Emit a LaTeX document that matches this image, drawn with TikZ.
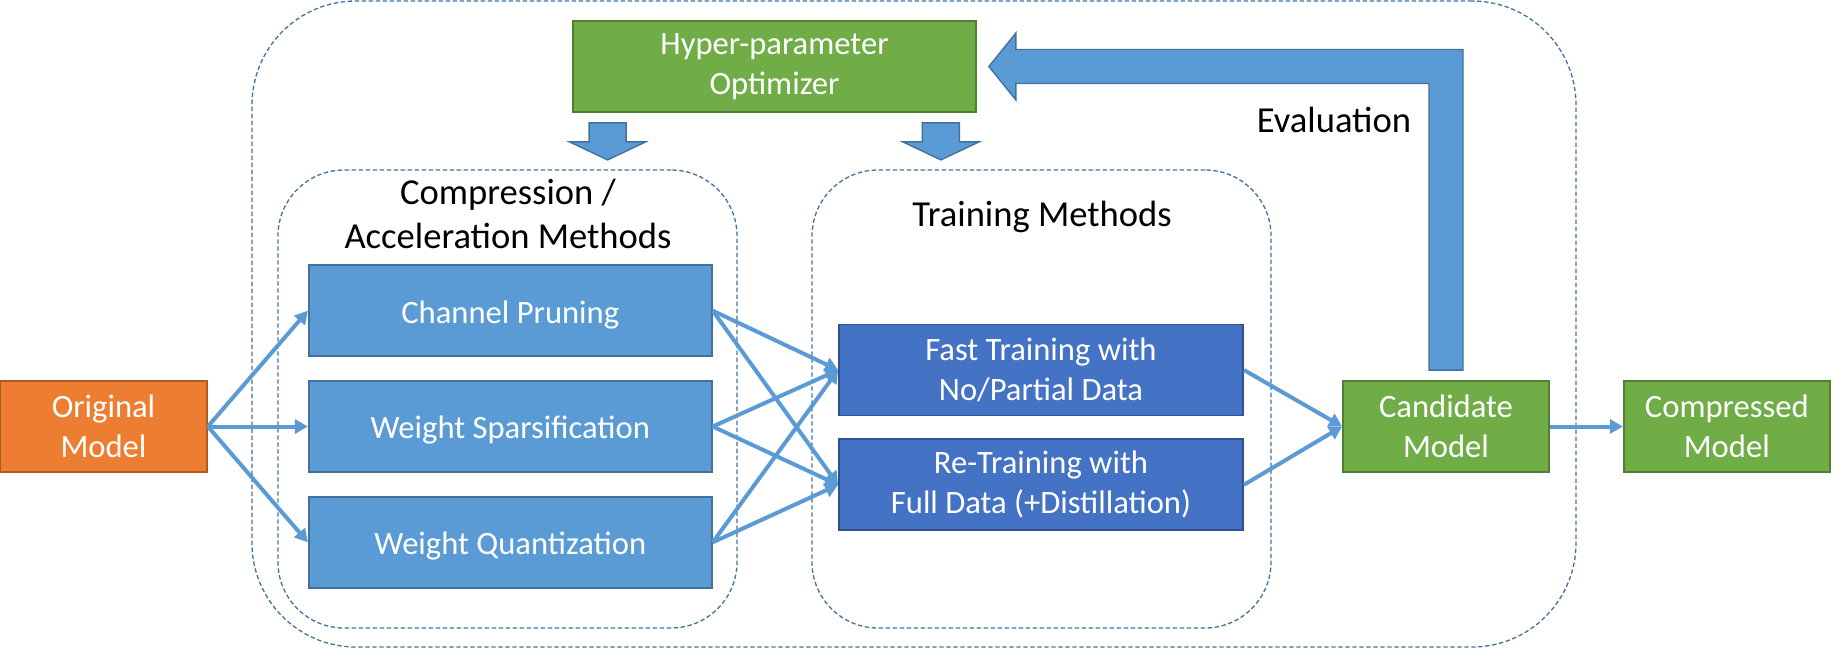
\documentclass[tikz,border=0pt]{standalone}
\usepackage{fontspec}
\setmainfont{Carlito}
\usepackage{xcolor}
\definecolor{lineDark}{HTML}{41719C}
\definecolor{methodColor}{HTML}{5B9BD5}
\definecolor{trainColor}{HTML}{4472C4}
\definecolor{trainLine}{HTML}{2F528F}
\definecolor{modelColor}{HTML}{70AD47}
\definecolor{modelLine}{HTML}{507E32}
\definecolor{inputColor}{HTML}{ED7D31}
\definecolor{inputLine}{HTML}{AE5A21}
\usepackage{tikz}
\usetikzlibrary{positioning,calc,arrows.meta}
\newcommand{\boxfont}{\fontsize{16.3pt}{19.9pt}\selectfont}
\newcommand{\titlefont}{\fontsize{18.3pt}{22pt}\selectfont}
\tikzset{
  methodBox/.style={
    rectangle,
    draw=lineDark,
    line width=0.9pt,
    fill=methodColor,
    text=white,
    font=\boxfont,
    minimum width=201.5pt,
    minimum height=45.5pt,
    align=center
 },
  oneLine/.style={
    text height=16.3pt,
    text depth=4pt
 },
  trainBox/.style={
    methodBox,
    draw=trainLine,
    fill=trainColor,
    minimum width=202pt
 },
  modelBox/.style={
    methodBox,
    draw=modelLine,
    fill=modelColor,
    minimum width=103pt
 },
  inputBox/.style={
    methodBox,
    draw=inputLine,
    fill=inputColor,
    minimum width=103.5pt
 },
  groupBox/.style={
    rectangle,
    draw=lineDark,
    line width=0.65pt,
    dash pattern=on 2.2pt off 1.3pt,
    rounded corners=33pt,
    minimum width=229.5pt,
    minimum height=229pt
 },
  titleText/.style={
    font=\titlefont,
    align=center,
    inner sep=0pt
 },
  flowArrow/.style={
    -{Triangle[length=6.5pt,width=7pt]},
    line width=2pt,
    color=methodColor
 },
  blockArrow/.style={
    draw=lineDark,
    line width=0.7pt,
    fill=methodColor
 }
}

\begin{document}
\begin{tikzpicture}[x=0.5pt,y=-0.5pt]
            \useasboundingbox (0,0) rectangle (1836,649);
            % dashed groups
            \node[groupBox, minimum width=662pt, minimum height=323pt, rounded corners=52pt] (outerGroup) at (914,324) {};
            \node[groupBox] (compGroup) at (507.5,399) {};
            \node[groupBox] (trainGroup) at (1041.5,399) {};
            \node[titleText] (compTitle) at (508,214) {Compression /\\Acceleration Methods};
            \node[titleText] (trainTitle) at (1042,217) {Training Methods};

            % input model
            \node[inputBox] (orig) at (103.5,426.5) {Original\\Model};
            % compression methods
            \node[methodBox, oneLine, right=50pt of orig] (sparse) {Weight Sparsification};
            \node[methodBox, oneLine, above=11.5pt of sparse] (prune) {Channel Pruning};
            \node[methodBox, oneLine, below=11.5pt of sparse] (quant) {Weight Quantization};
            % training methods
            \node[trainBox] (fast) at (1041,370) {Fast Training with\\No/Partial Data};
            \node[trainBox, below=11pt of fast] (retrain) {Re-Training with\\Full Data (+Distillation)};
            % output models
            \node[modelBox] (cand) at (1446,426.5) {Candidate\\Model};
            \node[modelBox, right=36.5pt of cand] (comp) {Compressed\\Model};
            % optimizer
            \node[methodBox, draw=modelLine, fill=modelColor] (hyper) at (774.5,66.5) {Hyper-parameter\\Optimizer};

            \foreach \s in {prune,sparse,quant} {
              \draw[flowArrow] (orig.east) -- (\s.west);
              \foreach \t in {fast,retrain}
                \draw[flowArrow] (\s.east) -- (\t.west);
            }
            \foreach \t in {fast,retrain}
              \draw[flowArrow] (\t.east) -- (cand.west);
            \draw[flowArrow] (cand) -- (comp);

            % optimizer feeds both groups
            \foreach \side/\dx in {west/35.5,east/-36}
              \draw[blockArrow] ($(hyper.south \side)+(\dx-18.5,10)$) -- ++(37,0) -- ++(0,19)
                -- ++(19.5,0) -- ++(-38,18) -- ++(-38,-18) -- ++(19.5,0) -- cycle;

            % evaluation feedback
            \coordinate (evalBottom) at ($(cand.north)+(0,-10)$);
            \coordinate (evalTip) at ($(hyper.east)+(12,0)$);
            \coordinate (evalCorner) at (evalBottom |- evalTip);
            \draw[blockArrow] (evalTip) -- ++(27,-33.5) -- ++(0,16.5) -- ($(evalCorner)+(17,-17)$)
              -- ($(evalBottom)+(17,0)$) -- ++(-34,0) -- ($(evalCorner)+(-17,17)$)
              -- ($(evalTip)+(27,17)$) -- ++(0,16.5) -- cycle;
            \node[titleText] (evalLabel) at (1334,120) {Evaluation};
        \end{tikzpicture}
\end{document}
